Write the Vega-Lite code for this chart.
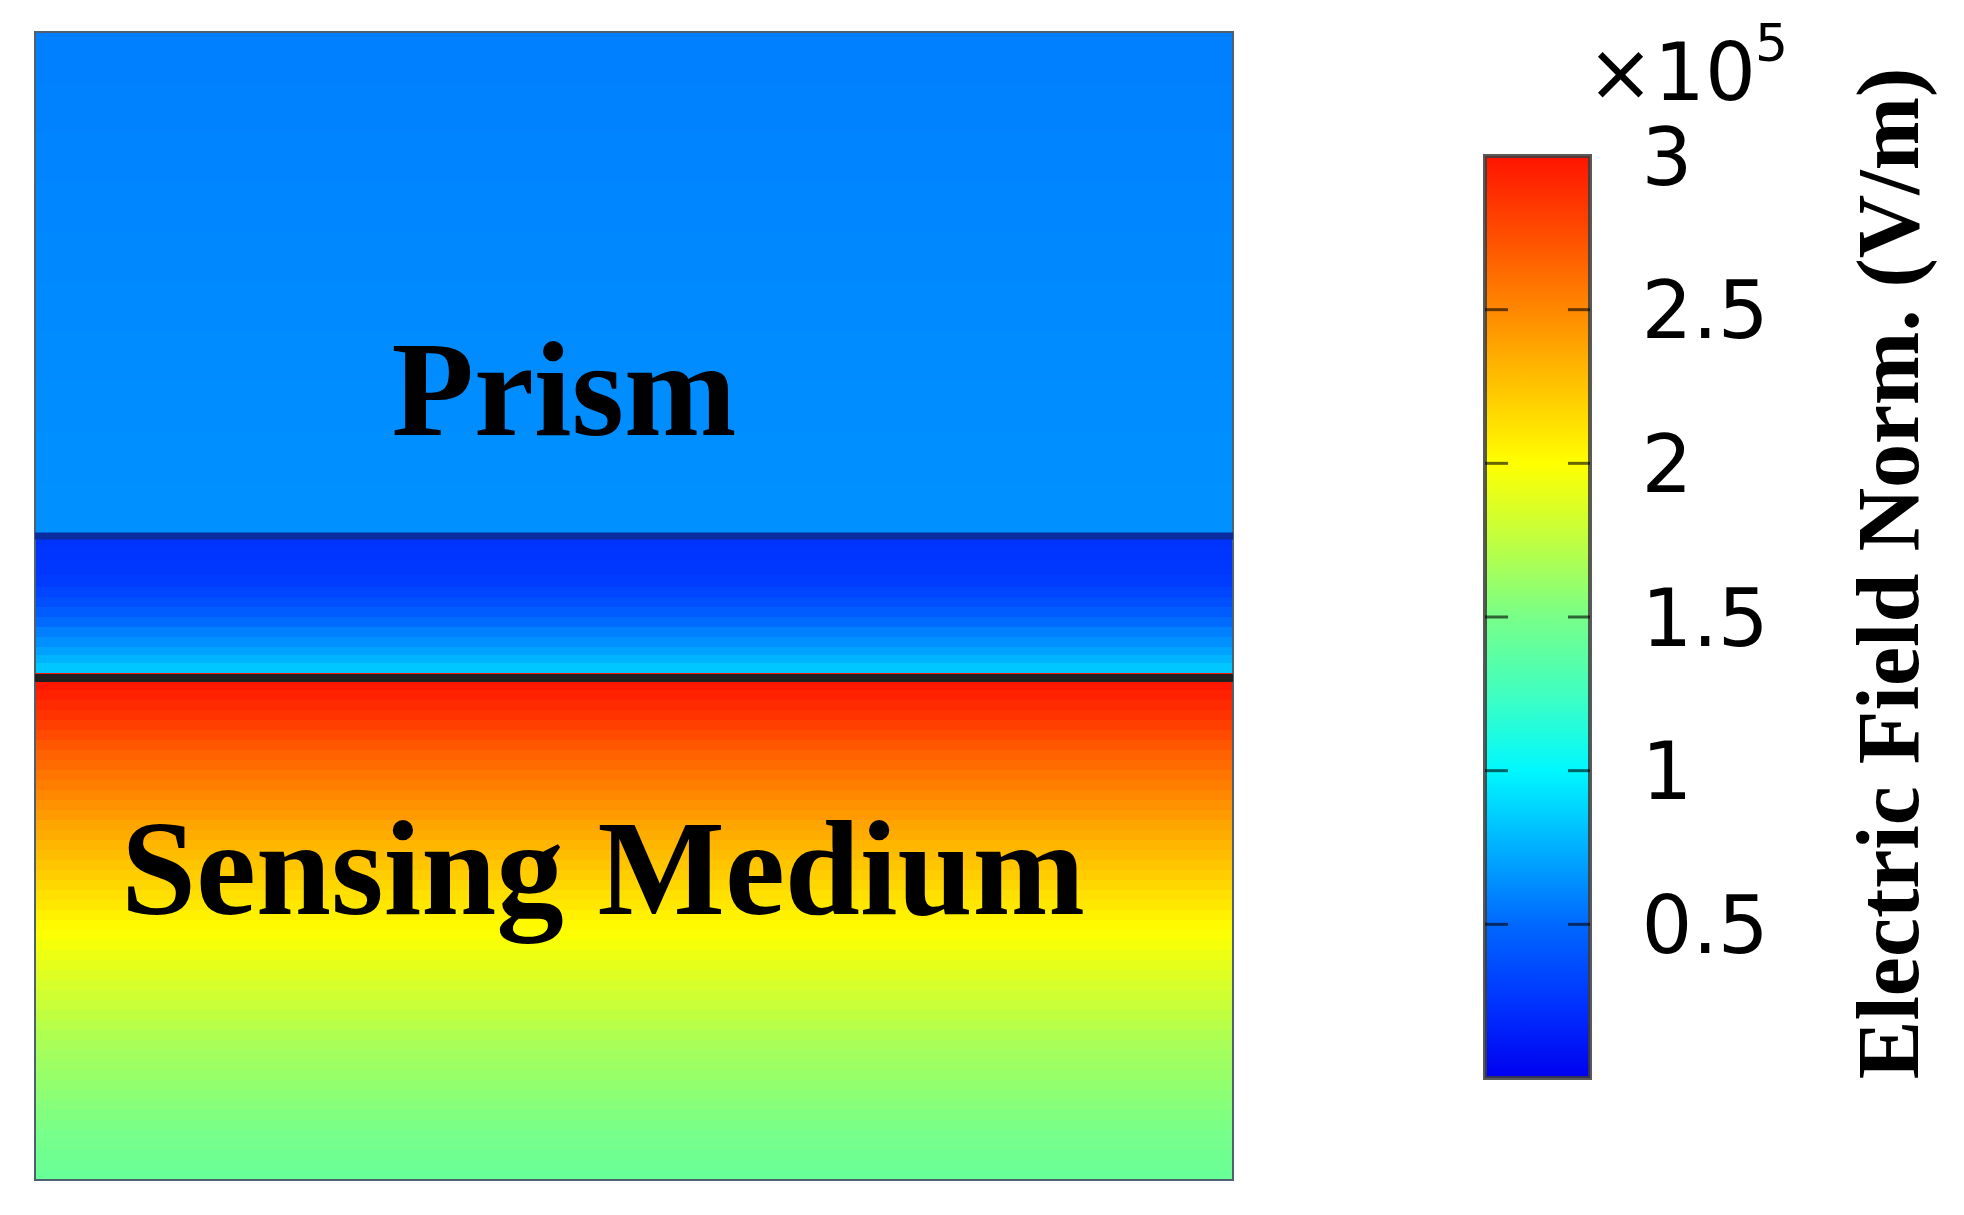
{
  "$schema": "https://vega.github.io/schema/vega-lite/v6.json",
  "width": 1929,
  "height": 1183,
  "padding": {"left": 35, "top": 32, "right": 0, "bottom": 0},
  "autosize": {"type": "none"},
  "background": "white",
  "config": {"view": {"stroke": null}},
  "datasets": {
    "field": [
      {"z0": 0, "z1": 50, "E": 0.583}, {"z0": 50, "z1": 100, "E": 0.59}, {"z0": 100, "z1": 150, "E": 0.597},
      {"z0": 150, "z1": 200, "E": 0.604}, {"z0": 200, "z1": 250, "E": 0.611}, {"z0": 250, "z1": 300, "E": 0.618},
      {"z0": 300, "z1": 350, "E": 0.624}, {"z0": 350, "z1": 400, "E": 0.63}, {"z0": 400, "z1": 450, "E": 0.635},
      {"z0": 450, "z1": 501, "E": 0.64},
      {"z0": 501, "z1": 513, "E": 0.24}, {"z0": 513, "z1": 528, "E": 0.25}, {"z0": 528, "z1": 543, "E": 0.265},
      {"z0": 543, "z1": 555, "E": 0.29}, {"z0": 555, "z1": 565, "E": 0.33}, {"z0": 565, "z1": 575, "E": 0.38},
      {"z0": 575, "z1": 585, "E": 0.44}, {"z0": 585, "z1": 595, "E": 0.51}, {"z0": 595, "z1": 605, "E": 0.58},
      {"z0": 605, "z1": 615, "E": 0.64}, {"z0": 615, "z1": 623, "E": 0.70}, {"z0": 623, "z1": 631, "E": 0.76},
      {"z0": 631, "z1": 641, "E": 0.83},
      {"z0": 641, "z1": 658, "E": 2.98}, {"z0": 658, "z1": 668, "E": 2.94}, {"z0": 668, "z1": 678, "E": 2.90},
      {"z0": 678, "z1": 688, "E": 2.86}, {"z0": 688, "z1": 698, "E": 2.81}, {"z0": 698, "z1": 708, "E": 2.76},
      {"z0": 708, "z1": 718, "E": 2.71}, {"z0": 718, "z1": 728, "E": 2.66}, {"z0": 728, "z1": 738, "E": 2.62},
      {"z0": 738, "z1": 748, "E": 2.58}, {"z0": 748, "z1": 758, "E": 2.54}, {"z0": 758, "z1": 768, "E": 2.50},
      {"z0": 768, "z1": 778, "E": 2.46}, {"z0": 778, "z1": 788, "E": 2.42}, {"z0": 788, "z1": 798, "E": 2.38},
      {"z0": 798, "z1": 808, "E": 2.35}, {"z0": 808, "z1": 818, "E": 2.31}, {"z0": 818, "z1": 828, "E": 2.28},
      {"z0": 828, "z1": 838, "E": 2.24}, {"z0": 838, "z1": 848, "E": 2.21}, {"z0": 848, "z1": 858, "E": 2.17},
      {"z0": 858, "z1": 868, "E": 2.13}, {"z0": 868, "z1": 878, "E": 2.10}, {"z0": 878, "z1": 888, "E": 2.06},
      {"z0": 888, "z1": 898, "E": 2.02}, {"z0": 898, "z1": 908, "E": 1.99}, {"z0": 908, "z1": 918, "E": 1.96},
      {"z0": 918, "z1": 928, "E": 1.93}, {"z0": 928, "z1": 938, "E": 1.90}, {"z0": 938, "z1": 948, "E": 1.87},
      {"z0": 948, "z1": 958, "E": 1.84}, {"z0": 958, "z1": 968, "E": 1.81}, {"z0": 968, "z1": 978, "E": 1.78},
      {"z0": 978, "z1": 988, "E": 1.75}, {"z0": 988, "z1": 998, "E": 1.72}, {"z0": 998, "z1": 1008, "E": 1.69},
      {"z0": 1008, "z1": 1018, "E": 1.67}, {"z0": 1018, "z1": 1028, "E": 1.65}, {"z0": 1028, "z1": 1038, "E": 1.63},
      {"z0": 1038, "z1": 1048, "E": 1.61}, {"z0": 1048, "z1": 1058, "E": 1.59}, {"z0": 1058, "z1": 1068, "E": 1.57},
      {"z0": 1068, "z1": 1078, "E": 1.55}, {"z0": 1078, "z1": 1088, "E": 1.53}, {"z0": 1088, "z1": 1098, "E": 1.51},
      {"z0": 1098, "z1": 1108, "E": 1.49}, {"z0": 1108, "z1": 1118, "E": 1.48}, {"z0": 1118, "z1": 1128, "E": 1.46},
      {"z0": 1128, "z1": 1138, "E": 1.45}, {"z0": 1138, "z1": 1148, "E": 1.43}
    ],
    "geometry": [{"xmin": 0, "xmax": 1, "ztop": 0, "zbottom": 1148}],
    "interfaces": [
      {"boundary": "prism/film", "z": 504},
      {"boundary": "film/medium", "z": 646}
    ],
    "labels": [
      {"region": "Prism", "x": 0.4416, "z": 403},
      {"region": "Sensing Medium", "x": 0.4741, "z": 882}
    ],
    "colorbar": [{"vmin": 0, "vmax": 3}],
    "cbticks": [{"v": 0.5}, {"v": 1}, {"v": 1.5}, {"v": 2}, {"v": 2.5}],
    "multiplier": [
      {"part": "mantissa", "text": "×10", "x": 0.971, "v": 3.182},
      {"part": "exponent", "text": "5", "x": 2.571, "v": 3.31}
    ]
  },
  "layer": [
    {
      "layer": [
        {
          "data": {"name": "field"},
          "mark": {"type": "rect"},
          "encoding": {
            "x": {"datum": 0, "type": "quantitative", "scale": {"domain": [0, 1.61018], "nice": false, "zero": false}, "axis": null},
            "x2": {"datum": 1},
            "y": {"field": "z0", "type": "quantitative", "scale": {"domain": [0, 1183], "reverse": true, "nice": false, "zero": false}, "axis": null},
            "y2": {"field": "z1"},
            "color": {
              "field": "E", "type": "quantitative",
              "scale": {
                "type": "linear",
                "domain": [0, 0.25, 0.5, 0.75, 1, 1.25, 1.5, 1.75, 2, 2.25, 2.5, 2.75, 3],
                "range": ["#0000f0", "#0034ff", "#0068ff", "#00b0ff", "#00f8ff", "#40ffc0", "#78ff88", "#c0ff40", "#ffff00", "#ffc400", "#ff8800", "#ff4c00", "#ff1400"],
                "interpolate": "rgb"
              },
              "legend": null
            }
          }
        },
        {
          "data": {"name": "geometry"},
          "mark": {"type": "rect", "fillOpacity": 0, "stroke": "#4f6070", "strokeWidth": 2},
          "encoding": {
            "x": {"field": "xmin", "type": "quantitative", "axis": null},
            "x2": {"field": "xmax"},
            "y": {"field": "ztop", "type": "quantitative", "axis": null},
            "y2": {"field": "zbottom"}
          }
        },
        {
          "data": {"name": "interfaces"},
          "transform": [{"filter": "datum.boundary === 'prism/film'"}],
          "mark": {"type": "rule", "color": "#0a2c9e", "strokeWidth": 7},
          "encoding": {
            "x": {"datum": 0, "type": "quantitative", "axis": null},
            "x2": {"datum": 1},
            "y": {"field": "z", "type": "quantitative", "axis": null}
          }
        },
        {
          "data": {"name": "interfaces"},
          "transform": [{"filter": "datum.boundary === 'film/medium'"}],
          "mark": {"type": "rule", "color": "#202020", "strokeWidth": 8},
          "encoding": {
            "x": {"datum": 0, "type": "quantitative", "axis": null},
            "x2": {"datum": 1},
            "y": {"field": "z", "type": "quantitative", "axis": null}
          }
        },
        {
          "data": {"name": "labels"},
          "mark": {"type": "text", "font": "Liberation Serif", "fontWeight": "bold", "fontSize": 135, "align": "center", "baseline": "alphabetic", "color": "#000000"},
          "encoding": {
            "x": {"field": "x", "type": "quantitative", "axis": null},
            "y": {"field": "z", "type": "quantitative", "axis": null},
            "text": {"field": "region"}
          }
        }
      ]
    },
    {
      "layer": [
        {
          "data": {"name": "colorbar"},
          "mark": {
            "type": "rect",
            "fill": {
              "gradient": "linear", "x1": 0, "y1": 1, "x2": 0, "y2": 0,
              "stops": [
                {"offset": 0, "color": "#0000f0"},
                {"offset": 0.08333, "color": "#0034ff"},
                {"offset": 0.16667, "color": "#0068ff"},
                {"offset": 0.25, "color": "#00b0ff"},
                {"offset": 0.33333, "color": "#00f8ff"},
                {"offset": 0.41667, "color": "#40ffc0"},
                {"offset": 0.5, "color": "#78ff88"},
                {"offset": 0.58333, "color": "#c0ff40"},
                {"offset": 0.66667, "color": "#ffff00"},
                {"offset": 0.75, "color": "#ffc400"},
                {"offset": 0.83333, "color": "#ff8800"},
                {"offset": 0.91667, "color": "#ff4c00"},
                {"offset": 1, "color": "#ff1400"}
              ]
            },
            "stroke": "#3c3c3c", "strokeWidth": 4, "strokeOpacity": 0.85
          },
          "encoding": {
            "x": {"datum": 0, "type": "quantitative", "scale": {"domain": [-13.8095, 4.5619], "nice": false, "zero": false}, "axis": null},
            "x2": {"datum": 1},
            "y": {
              "field": "vmin", "type": "quantitative",
              "scale": {"domain": [-0.4458, 3.4035], "nice": false, "zero": false},
              "axis": {
                "orient": "right", "offset": -374,
                "values": [0.5, 1, 1.5, 2, 2.5, 3], "format": "~g",
                "ticks": false, "tickSize": 0, "domain": false, "grid": false,
                "labelFont": "DejaVu Sans", "labelFontSize": 80, "labelColor": "#000000",
                "labelPadding": 51, "labelAlign": "left", "labelBaseline": "middle", "labelOffset": 4,
                "labelFlush": false, "labelOverlap": false,
                "title": "Electric Field Norm. (V/m)",
                "titleFont": "Liberation Serif", "titleFontWeight": "bold", "titleFontSize": 88, "titleColor": "#000000",
                "titleAngle": 270, "titleX": 327, "titleY": 541, "titleAlign": "center", "titleBaseline": "alphabetic"
              }
            },
            "y2": {"field": "vmax"}
          }
        },
        {
          "data": {"name": "cbticks"},
          "mark": {"type": "rule", "color": "#000000", "strokeWidth": 3, "opacity": 0.6},
          "encoding": {
            "x": {"datum": 0, "type": "quantitative", "axis": null},
            "x2": {"datum": 0.22},
            "y": {"field": "v", "type": "quantitative"}
          }
        },
        {
          "data": {"name": "cbticks"},
          "mark": {"type": "rule", "color": "#000000", "strokeWidth": 3, "opacity": 0.6},
          "encoding": {
            "x": {"datum": 0.79, "type": "quantitative", "axis": null},
            "x2": {"datum": 1},
            "y": {"field": "v", "type": "quantitative"}
          }
        },
        {
          "data": {"name": "multiplier"},
          "transform": [{"filter": "datum.part === 'mantissa'"}],
          "mark": {"type": "text", "font": "DejaVu Sans", "fontSize": 80, "align": "left", "baseline": "alphabetic", "color": "#000000"},
          "encoding": {
            "x": {"field": "x", "type": "quantitative", "axis": null},
            "y": {"field": "v", "type": "quantitative"},
            "text": {"field": "text"}
          }
        },
        {
          "data": {"name": "multiplier"},
          "transform": [{"filter": "datum.part === 'exponent'"}],
          "mark": {"type": "text", "font": "DejaVu Sans", "fontSize": 52, "align": "left", "baseline": "alphabetic", "color": "#000000"},
          "encoding": {
            "x": {"field": "x", "type": "quantitative", "axis": null},
            "y": {"field": "v", "type": "quantitative"},
            "text": {"field": "text"}
          }
        }
      ]
    }
  ],
  "resolve": {
    "scale": {"x": "independent", "y": "independent", "color": "independent"},
    "axis": {"x": "independent", "y": "independent"}
  }
}
